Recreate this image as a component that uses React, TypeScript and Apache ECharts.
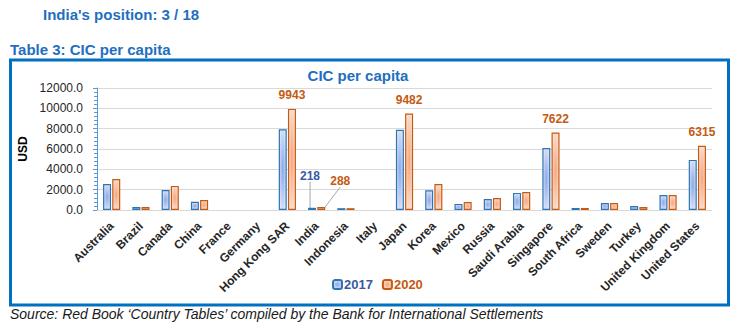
import React, { useEffect, useRef } from "react";
import * as echarts from "echarts";

const categories = [
  "Australia", "Brazil", "Canada", "China", "France", "Germany", "Hong Kong SAR",
  "India", "Indonesia", "Italy", "Japan", "Korea", "Mexico", "Russia",
  "Saudi Arabia", "Singapore", "South Africa", "Sweden", "Turkey",
  "United Kingdom", "United States",
];
const values2017 = [2550, 300, 1970, 800, null, null, 7950, 218, 180, null, 7900, 1950, 600, 1080, 1680, 6100, 200, 690, 395, 1480, 4930];
const values2020 = [3050, 300, 2370, 990, null, null, 9943, 288, 180, null, 9482, 2550, 780, 1180, 1770, 7622, 200, 690, 300, 1480, 6315];
const labelled2017 = ["India"];
const labelled2020 = ["Hong Kong SAR", "India", "Japan", "Singapore", "United States"];
const seriesNames = ["2017", "2020"];
const yTicks = { min: 0, max: 12000, interval: 2000 };

const BLUE_TXT = "#1F6FC0";
const ORANGE = "#C55A11";
const BLUE_BAR = "#2E75B6";

export default function App() {
  const ref = useRef<HTMLDivElement>(null);
  useEffect(() => {
    if (!ref.current) return;
    const chart = echarts.init(ref.current, null, { renderer: "svg" });
    const blueFill = new echarts.graphic.RadialGradient(0.5, 0.5, 0.7, [
      { offset: 0, color: "#8DA8E8" },
      { offset: 1, color: "#F0F3FB" },
    ]);
    const orangeFill = new echarts.graphic.RadialGradient(0.5, 0.5, 0.7, [
      { offset: 0, color: "#F7A57C" },
      { offset: 1, color: "#FDEFE7" },
    ]);
    const mk = (vals: (number | null)[], labelled: string[]) =>
      vals.map((v, i) => {
        const c = categories[i];
        const item: any = { value: v };
        if (labelled.includes(c)) {
          item.label = { show: true };
          if (c === "India") item.labelLine = { show: true, lineStyle: { color: "#A6A6A6", width: 1 } };
        }
        return item;
      });
    chart.setOption({
      animation: false,
      textStyle: { fontFamily: "Liberation Sans" },
      title: {
        text: "CIC per capita",
        left: 353,
        textAlign: "center",
        top: 63,
        textStyle: { color: BLUE_TXT, fontSize: 15, fontWeight: "bold", fontFamily: "Liberation Sans" },
      },
      legend: {
        left: 327,
        top: 273,
        itemWidth: 9,
        itemHeight: 9,
        itemGap: 9,
        data: [
          { name: seriesNames[0], textStyle: { color: "#3B5AA0" } },
          { name: seriesNames[1], textStyle: { color: ORANGE } },
        ],
        textStyle: { fontSize: 13, fontWeight: "bold", padding: [0, 0, 0, -3] },
      },
      grid: { left: 97, right: 26, top: 88, bottom: 116 },
      xAxis: {
        type: "category",
        data: categories,
        axisLine: { lineStyle: { color: "#D9D9D9" } },
        axisTick: { show: false },
        axisLabel: {
          rotate: 45,
          interval: 0,
          fontSize: 12,
          fontWeight: "bold",
          color: "#262626",
          margin: 14,
        },
      },
      yAxis: {
        type: "value",
        ...yTicks,
        name: "USD",
        nameLocation: "middle",
        nameRotate: 90,
        nameGap: 66,
        nameTextStyle: { fontSize: 12, fontWeight: "bold", color: "#000" },
        axisLine: { show: true, lineStyle: { color: "#5B9BD5" } },
        axisTick: { show: true, length: 4, lineStyle: { color: "#5B9BD5" } },
        minorTick: { show: true, splitNumber: 5, length: 3, lineStyle: { color: "#5B9BD5" } },
        axisLabel: {
          formatter: (v: number) => v.toFixed(1),
          fontSize: 12,
          color: "#262626",
          margin: 14,
        },
        splitLine: { lineStyle: { color: "#D9D9D9" } },
      },
      series: [
        {
          name: seriesNames[0],
          type: "bar",
          barWidth: 8,
          barGap: "15%",
          itemStyle: { color: blueFill, borderColor: BLUE_BAR, borderWidth: 1.2 },
          label: {
            show: false,
            position: "top",
            distance: 8,
            color: "#3B5AA0",
            fontSize: 12,
            fontWeight: "bold",
          },
          labelLayout: (p: any) => (categories[p.dataIndex] === "India" ? { dx: -2, dy: -18 } : {}),
          labelLine: { show: false },
          data: mk(values2017, labelled2017),
        },
        {
          name: seriesNames[1],
          type: "bar",
          barWidth: 8,
          itemStyle: { color: orangeFill, borderColor: ORANGE, borderWidth: 1.2 },
          label: {
            show: false,
            position: "top",
            distance: 8,
            color: ORANGE,
            fontSize: 12,
            fontWeight: "bold",
          },
          labelLayout: (p: any) => (categories[p.dataIndex] === "India" ? { dx: 19, dy: -12 } : {}),
          labelLine: { show: false },
          data: mk(values2020, labelled2020),
        },
      ],
      graphic: [
        {
          type: "text",
          left: 43,
          top: 7,
          style: { text: "India's position: 3 / 18", fill: BLUE_TXT, font: "bold 15px 'Liberation Sans'" },
        },
        {
          type: "text",
          left: 10,
          top: 42,
          style: { text: "Table 3: CIC per capita", fill: BLUE_TXT, font: "bold 15px 'Liberation Sans'" },
        },
        {
          type: "rect",
          shape: { x: 10.5, y: 60, width: 718, height: 245 },
          style: { fill: "none", stroke: "#0070C0", lineWidth: 3 },
          silent: true,
        },
        {
          type: "text",
          left: 10,
          top: 307,
          style: {
            text: "Source: Red Book \u2018Country Tables\u2019 compiled by the Bank for International Settlements",
            fill: "#1a1a1a",
            font: "italic 14px 'Liberation Sans'",
          },
        },
      ],
    });
    return () => chart.dispose();
  }, []);
  return (
    <div
      ref={ref}
      style={{ position: "fixed", left: 0, top: 0, width: 738, height: 326, background: "#fff" }}
    />
  );
}
